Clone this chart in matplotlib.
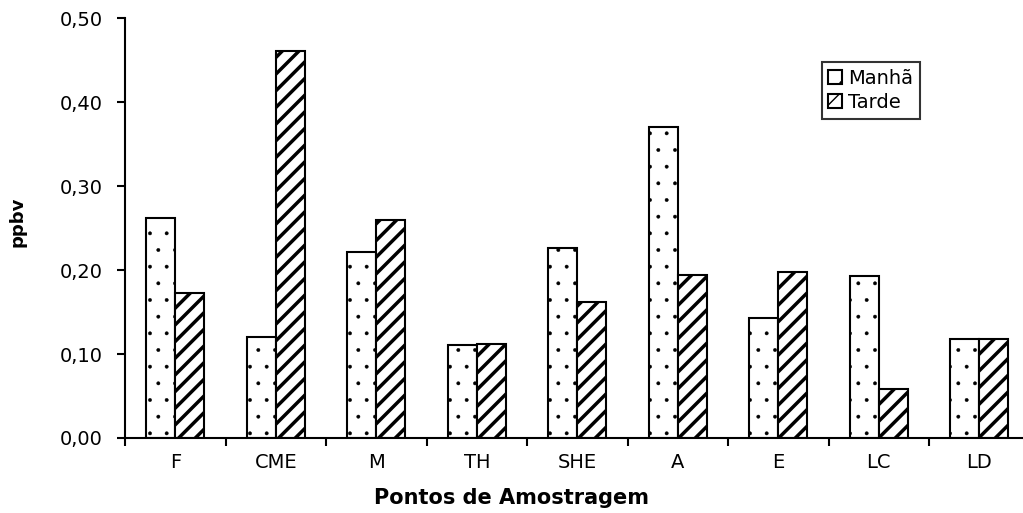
import matplotlib
matplotlib.use('Agg')
import matplotlib.pyplot as plt
import numpy as np

pontos = ['F', 'CME', 'M', 'TH', 'SHE', 'A', 'E', 'LC', 'LD']
manha = [0.262, 0.120, 0.221, 0.111, 0.226, 0.370, 0.143, 0.193, 0.118]
tarde = [0.173, 0.461, 0.260, 0.112, 0.162, 0.194, 0.198, 0.058, 0.118]
y_ticks = [0.0, 0.1, 0.2, 0.3, 0.4, 0.5]

plt.rcParams['font.family'] = ['DejaVu Sans']

fig = plt.figure(figsize=(10.23, 5.13), dpi=100)
ax = fig.add_axes([0.1222, 0.1462, 0.8842, 0.8187])

x = np.arange(len(pontos))
w = 0.29

with plt.rc_context({'hatch.linewidth': 0.3}):
    ax.bar(x - w / 2, manha, w, color='white', edgecolor='black',
           linewidth=1.5, hatch='.', label='Manhã')
with plt.rc_context({'hatch.linewidth': 2.5}):
    ax.bar(x + w / 2, tarde, w, color='white', edgecolor='black',
           linewidth=1.5, hatch='//', label='Tarde')

ax.set_xlim(-0.5, len(pontos) - 0.5)
ax.set_ylim(0, 0.5)
ax.set_yticks(y_ticks)
ax.set_yticklabels([f'{v:.2f}'.replace('.', ',') for v in y_ticks])
ax.set_xticks(x)
ax.set_xticklabels(pontos)
ax.set_xticks(np.arange(len(pontos) + 1) - 0.5, minor=True)

for s in ['top', 'right']:
    ax.spines[s].set_visible(False)
for s in ['left', 'bottom']:
    ax.spines[s].set_linewidth(1.5)

ax.tick_params(axis='y', direction='out', length=6, width=1.5,
               labelsize=14, pad=10)
ax.tick_params(axis='x', which='major', length=0, labelsize=14, pad=11)
ax.tick_params(axis='x', which='minor', direction='out', length=6, width=1.5)

fig.text(18 / 1023, 1 - 222 / 513, 'ppbv', rotation=90, fontsize=13,
         fontweight='bold', ha='center', va='center')
fig.text(512 / 1023, 1 - 498 / 513, 'Pontos de Amostragem', fontsize=15,
         fontweight='bold', ha='center', va='center')

leg = ax.legend(loc='upper left', bbox_to_anchor=(0.770, 0.895),
                borderaxespad=0, fontsize=14, frameon=True, fancybox=False,
                handlelength=0.7, handleheight=0.7, handletextpad=0.3,
                labelspacing=0.25, borderpad=0.35)
leg.get_frame().set_edgecolor('black')
leg.get_frame().set_linewidth(1.5)

fig.savefig('out.png', dpi=100)
